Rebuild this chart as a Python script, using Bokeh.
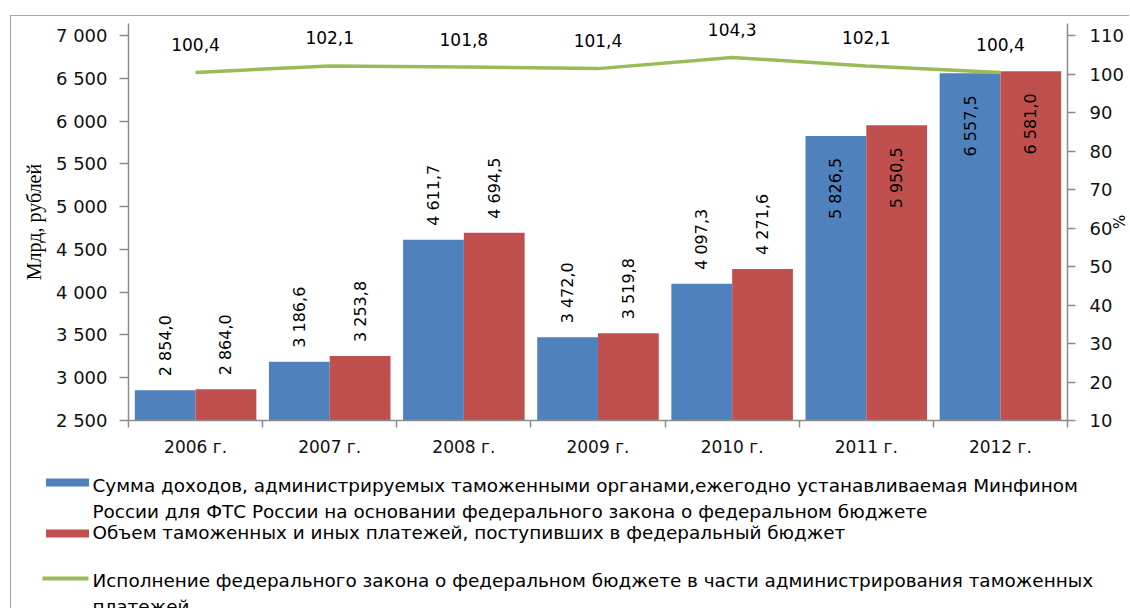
import math
from bokeh.plotting import figure
from bokeh.models import Range1d, LinearAxis, FixedTicker, Spacer
from bokeh.layouts import column, row
from bokeh.core.properties import value
from bokeh.embed import file_html
from bokeh.resources import INLINE

# ---------------- data ----------------
years = ["2006 г.", "2007 г.", "2008 г.", "2009 г.", "2010 г.", "2011 г.", "2012 г."]
planned = [2854.0, 3186.6, 4611.7, 3472.0, 4097.3, 5826.5, 6557.5]
received = [2864.0, 3253.8, 4694.5, 3519.8, 4271.6, 5950.5, 6581.0]
execution = [100.4, 102.1, 101.8, 101.4, 104.3, 102.1, 100.4]
left_ticks = [2500, 3000, 3500, 4000, 4500, 5000, 5500, 6000, 6500, 7000]
right_ticks = [10, 20, 30, 40, 50, 60, 70, 80, 90, 100, 110]
left_axis_title = "Млрд, рублей"
right_axis_title = "%"
legend_planned = ["Сумма доходов, администрируемых таможенными органами,ежегодно  устанавливаемая Минфином",
                  "России для ФТС  России на основании федерального  закона о федеральном бюджете"]
legend_received = ["Объем таможенных и иных платежей,  поступивших  в федеральный бюджет"]
legend_execution = ["Исполнение  федерального закона о федеральном  бюджете в части администрирования таможенных",
                    "платежей"]

BLUE = "#4F81BD"
RED = "#C0504D"
GREEN = "#9BBB59"
AXIS = "#8c8c8c"
FONT = "DejaVu Sans"


def fmt_thousands(v):
    return f"{v:,.0f}".replace(",", " ")


def fmt_value(v):
    return f"{v:,.1f}".replace(",", " ").replace(".", ",")


n = len(years)
centers = [i + 0.5 for i in range(n)]
half = 0.2265
bw = 0.453
bx = [c - half for c in centers]
rx = [c + half for c in centers]

W = 1118
p = figure(width=W, height=449, x_range=Range1d(0, n), y_range=Range1d(left_ticks[0], 7140),
           output_backend="svg", toolbar_location=None,
           min_border_left=117, min_border_right=59, min_border_top=7, min_border_bottom=45)
p.frame_align = False
p.extra_y_ranges = {"pct": Range1d(right_ticks[0], 113.12)}
p.xgrid.visible = False
p.ygrid.visible = False
p.outline_line_color = None
p.background_fill_color = "white"
p.border_fill_color = "white"

# bars
p.vbar(x=bx, top=planned, bottom=left_ticks[0], width=bw, fill_color=BLUE, line_color=None)
p.vbar(x=rx, top=received, bottom=left_ticks[0], width=bw, fill_color=RED, line_color=None)

# bar labels
inside_limit = 5500
for xs, vals in ((bx, planned), (rx, received)):
    out_x = [x for x, v in zip(xs, vals) if v <= inside_limit]
    out_v = [v for v in vals if v <= inside_limit]
    in_x = [x for x, v in zip(xs, vals) if v > inside_limit]
    in_v = [v for v in vals if v > inside_limit]
    p.text(x=out_x, y=out_v, text=[fmt_value(v) for v in out_v], angle=math.pi / 2,
           text_align="left", text_baseline="middle", y_offset=-14,
           text_font=value(FONT), text_font_size="16px", text_color="#000000")
    p.text(x=in_x, y=in_v, text=[fmt_value(v) for v in in_v], angle=math.pi / 2,
           text_align="right", text_baseline="middle", y_offset=22,
           text_font=value(FONT), text_font_size="16px", text_color="#000000")

# execution line
p.line(x=centers, y=execution, y_range_name="pct", line_color=GREEN, line_width=3.5)
p.text(x=centers, y=execution, y_range_name="pct", text=[f"{v:.1f}".replace(".", ",") for v in execution],
       text_align="center", text_baseline="middle", y_offset=-28,
       text_font=value(FONT), text_font_size="17px", text_color="#000000")

# left axis
ya = p.yaxis[0]
ya.ticker = FixedTicker(ticks=left_ticks, minor_ticks=[])
ya.major_label_overrides = {t: fmt_thousands(t) for t in left_ticks}
ya.major_label_text_font = FONT
ya.major_label_text_font_size = "18px"
ya.major_label_text_color = "#111111"
ya.major_tick_out = 9
ya.major_tick_in = 0
ya.minor_tick_out = 0
ya.minor_tick_in = 0
ya.major_label_standoff = 12
ya.axis_line_color = AXIS
ya.axis_line_width = 1.5
ya.major_tick_line_color = AXIS
ya.major_tick_line_width = 1.5
ya.axis_label = left_axis_title
ya.axis_label_text_font = "Liberation Serif"
ya.axis_label_text_font_size = "20px"
ya.axis_label_text_font_style = "normal"
ya.axis_label_text_color = "#000000"
ya.axis_label_standoff = 8

# right axis
ra = LinearAxis(y_range_name="pct", ticker=FixedTicker(ticks=right_ticks, minor_ticks=[]))
ra.major_label_text_font = FONT
ra.major_label_text_font_size = "18px"
ra.major_label_text_color = "#111111"
ra.major_tick_out = 8
ra.major_tick_in = 0
ra.minor_tick_out = 0
ra.minor_tick_in = 0
ra.major_label_standoff = 14
ra.axis_line_color = AXIS
ra.axis_line_width = 1.5
ra.major_tick_line_color = AXIS
ra.major_tick_line_width = 1.5
ra.axis_label = right_axis_title
ra.axis_label_text_font = FONT
ra.axis_label_text_font_size = "15px"
ra.axis_label_text_font_style = "normal"
ra.axis_label_text_color = "#000000"
ra.axis_label_standoff = -18
p.add_layout(ra, "right")

# bottom axis
xa = p.xaxis[0]
xa.ticker = FixedTicker(ticks=centers, minor_ticks=list(range(n + 1)))
xa.major_label_overrides = {c: y for c, y in zip(centers, years)}
xa.major_label_text_font = FONT
xa.major_label_text_font_size = "17px"
xa.major_label_text_color = "#111111"
xa.major_tick_out = 0
xa.major_tick_in = 0
xa.minor_tick_out = 7
xa.minor_tick_in = 0
xa.minor_tick_line_color = AXIS
xa.minor_tick_line_width = 1.5
xa.major_label_standoff = 9
xa.axis_line_color = AXIS
xa.axis_line_width = 1.5

# ---------------- legend (below the chart) ----------------
LH = 143
leg = figure(width=W, height=LH, x_range=Range1d(0, W), y_range=Range1d(LH, 0),
             output_backend="svg", toolbar_location=None, min_border=0,
             min_border_left=0, min_border_right=0, min_border_top=0, min_border_bottom=0,
             x_axis_type=None, y_axis_type=None)
leg.frame_align = False
leg.xgrid.visible = False
leg.ygrid.visible = False
leg.outline_line_color = None
leg.background_fill_color = "white"
leg.border_fill_color = "white"

leg.rect(x=[56], y=[17], width=43, height=8, fill_color=BLUE, line_color=None)
leg.rect(x=[56], y=[68], width=43, height=8, fill_color=RED, line_color=None)
leg.line(x=[31, 77], y=[113, 113], line_color=GREEN, line_width=4)

text_x = 81
LFS = "18.4px"
leg.text(x=[text_x, text_x], y=[20, 46], text=legend_planned, text_align="left", text_baseline="middle",
         text_font=value(FONT), text_font_size=LFS, text_color="#000000")
leg.text(x=[text_x], y=[67], text=legend_received, text_align="left", text_baseline="middle",
         text_font=value(FONT), text_font_size=LFS, text_color="#000000")
leg.text(x=[text_x, text_x], y=[115, 141], text=legend_execution, text_align="left", text_baseline="middle",
         text_font=value(FONT), text_font_size=LFS, text_color="#000000")

inner = column(p, leg, styles={"border-top": "1px solid #a6a6a6", "border-left": "1px solid #a6a6a6"})
root = column(Spacer(width=1, height=15), row(Spacer(width=10, height=1), inner))

open("out.html", "w").write(file_html(root, INLINE))
